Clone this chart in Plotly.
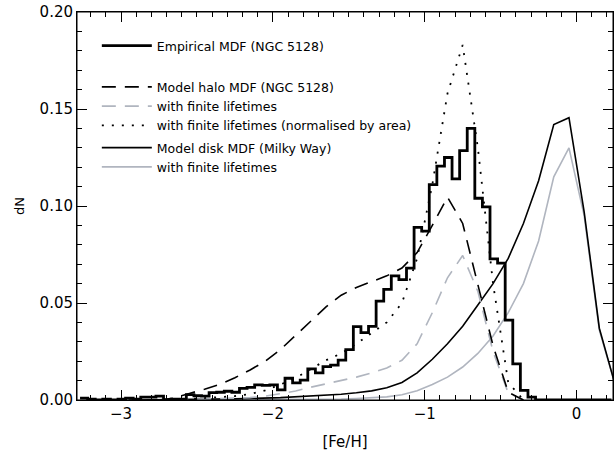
import plotly.graph_objects as go

# ---------------- data ----------------
# Empirical MDF (NGC 5128) histogram: bin edges and heights
hist_edges = [-3.27, -3.22, -3.17, -3.12, -3.07, -3.02, -2.97, -2.92, -2.87, -2.82,
              -2.77, -2.72, -2.67, -2.62, -2.57, -2.52, -2.47, -2.42, -2.37, -2.32,
              -2.27, -2.22, -2.17, -2.12, -2.07, -2.02, -1.97, -1.92, -1.87, -1.82,
              -1.77, -1.72, -1.67, -1.62, -1.57, -1.52, -1.47, -1.42, -1.37, -1.32,
              -1.27, -1.22, -1.17, -1.12, -1.07, -1.02, -0.97, -0.92, -0.87, -0.82,
              -0.77, -0.72, -0.67, -0.62, -0.57, -0.52, -0.47, -0.42, -0.37, -0.32,
              -0.27, -0.22, -0.17, -0.12, -0.07, -0.02, 0.03, 0.08, 0.13, 0.18, 0.23]
hist_values = [0.001, 0.0005, 0.0, 0.0005, 0.0, 0.0005, 0.001, 0.0005, 0.0015, 0.0015,
               0.002, 0.0, 0.0005, 0.0005, 0.0028, 0.0022, 0.002, 0.0038, 0.004, 0.0045,
               0.004, 0.006, 0.0065, 0.0078, 0.0075, 0.0078, 0.0052, 0.0112, 0.0088, 0.0102,
               0.016, 0.014, 0.0172, 0.018, 0.0206, 0.026, 0.0378, 0.0347, 0.038, 0.051,
               0.057, 0.064, 0.062, 0.068, 0.089, 0.087, 0.111, 0.1206, 0.125, 0.114,
               0.1285, 0.140, 0.104, 0.0995, 0.0727, 0.0706, 0.0412, 0.0186, 0.005, 0.0015,
               0.0, 0.0, 0.0, 0.0, 0.0, 0.0, 0.0, 0.0, 0.0, 0.0]

# Model halo MDF (NGC 5128)
halo_feh = [-2.75, -2.65, -2.55, -2.45, -2.35, -2.25, -2.15, -2.05, -1.95, -1.85,
            -1.75, -1.65, -1.55, -1.45, -1.35, -1.25, -1.15, -1.05, -0.95, -0.85,
            -0.75, -0.65, -0.55, -0.45, -0.35]
halo_dn = [0.0, 0.001, 0.0034, 0.0055, 0.008, 0.0115, 0.0155, 0.020, 0.026, 0.0335,
           0.041, 0.048, 0.054, 0.058, 0.061, 0.064, 0.068, 0.076, 0.090, 0.1046,
           0.091, 0.060, 0.028, 0.004, 0.0]

# Model halo with finite lifetimes
halo_fl_feh = [-2.65, -2.55, -2.45, -2.35, -2.25, -2.15, -2.05, -1.95, -1.85, -1.75,
               -1.65, -1.55, -1.45, -1.35, -1.25, -1.15, -1.05, -0.95, -0.85, -0.75,
               -0.65, -0.55, -0.45, -0.35]
halo_fl_dn = [0.0, 0.0002, 0.0004, 0.0006, 0.0008, 0.0012, 0.002, 0.0032, 0.0046, 0.0066,
              0.0083, 0.0098, 0.0118, 0.014, 0.0165, 0.0205, 0.029, 0.045, 0.063, 0.0745,
              0.056, 0.025, 0.0036, 0.0]

# Model halo with finite lifetimes, normalised by area
halo_norm_feh = [-2.65, -2.55, -2.45, -2.35, -2.25, -2.15, -2.05, -1.95, -1.85, -1.75,
                 -1.65, -1.55, -1.45, -1.35, -1.25, -1.15, -1.05, -0.95, -0.85, -0.75,
                 -0.65, -0.55, -0.45, -0.35]
halo_norm_dn = [0.0, 0.0005, 0.001, 0.0015, 0.002, 0.003, 0.005, 0.008, 0.0113, 0.016,
                0.0205, 0.024, 0.029, 0.0345, 0.040, 0.050, 0.073, 0.111, 0.158, 0.183,
                0.130, 0.060, 0.009, 0.0]

# Model disk MDF (Milky Way)
disk_feh = [-2.95, -2.55, -2.25, -1.95, -1.75, -1.55, -1.45, -1.35, -1.25, -1.15,
            -1.05, -0.95, -0.85, -0.75, -0.65, -0.55, -0.45, -0.35, -0.25, -0.15,
            -0.05, 0.05, 0.15, 0.25]
disk_dn = [0.0, 0.0003, 0.0006, 0.0012, 0.002, 0.003, 0.0037, 0.0047, 0.0063, 0.009,
           0.014, 0.021, 0.029, 0.038, 0.049, 0.060, 0.073, 0.091, 0.113, 0.142,
           0.1455, 0.097, 0.037, 0.009]

# Model disk with finite lifetimes
disk_fl_feh = [-2.45, -1.95, -1.55, -1.45, -1.35, -1.25, -1.15, -1.05, -0.95, -0.85,
               -0.75, -0.65, -0.55, -0.45, -0.35, -0.25, -0.15, -0.05, 0.05, 0.15, 0.25]
disk_fl_dn = [0.0, 0.0002, 0.0005, 0.0008, 0.0011, 0.0016, 0.0027, 0.0048, 0.0080, 0.0118,
              0.0170, 0.0240, 0.033, 0.045, 0.060, 0.082, 0.115, 0.130, 0.095, 0.036, 0.009]

GREY = "#b0b5bf"
FONT = "DejaVu Sans"
X_RANGE = [-3.29, 0.24]
Y_RANGE = [0, 0.2]

fig = go.Figure()

fig.add_trace(go.Scatter(x=disk_fl_feh, y=disk_fl_dn, mode="lines", name="with finite lifetimes",
                         line=dict(color=GREY, width=1.6), legendgroup="c", legendrank=7))
fig.add_trace(go.Scatter(x=disk_feh, y=disk_dn, mode="lines", name="Model disk MDF (Milky Way)",
                         line=dict(color="black", width=1.6), legendgroup="c", legendrank=6))
fig.add_trace(go.Scatter(x=halo_fl_feh, y=halo_fl_dn, mode="lines", name="with finite lifetimes",
                         line=dict(color=GREY, width=1.6, dash="14px,9px"), legendgroup="b", legendrank=4))
fig.add_trace(go.Scatter(x=halo_norm_feh, y=halo_norm_dn, mode="lines",
                         name="with finite lifetimes (normalised by area)",
                         line=dict(color="black", width=1.8, dash="2px,8px"), legendgroup="b", legendrank=5))
fig.add_trace(go.Scatter(x=halo_feh, y=halo_dn, mode="lines", name="Model halo MDF (NGC 5128)",
                         line=dict(color="black", width=1.6, dash="14px,9px"), legendgroup="b", legendrank=3,
                         legendgrouptitle=dict(text="\u00a0", font=dict(size=10))))
fig.add_trace(go.Scatter(x=hist_edges, y=hist_values + [hist_values[-1]], mode="lines",
                         line_shape="hv", name="Empirical MDF (NGC 5128)",
                         line=dict(color="black", width=2.8), legendgroup="a", legendrank=1))
# empty trace so the top/right tick axes are rendered
fig.add_trace(go.Scatter(x=[None], y=[None], xaxis="x2", yaxis="y2", mode="lines",
                         showlegend=False, hoverinfo="skip"))

tick_common = dict(ticks="inside", ticklen=10, tickwidth=1, tickcolor="black",
                   showline=True, linecolor="black", linewidth=1,
                   showgrid=False, zeroline=False, automargin=False)

fig.update_layout(
    width=616, height=452,
    margin=dict(l=77, r=3, t=12, b=52),
    paper_bgcolor="white", plot_bgcolor="white",
    font=dict(family=FONT, color="black", size=14),
    legend=dict(x=0.037, y=0.951, xanchor="left", yanchor="top",
                bgcolor="rgba(0,0,0,0)", font=dict(size=12.5, family=FONT),
                traceorder="grouped", tracegroupgap=3, itemwidth=50),
    showlegend=True,
    shapes=[dict(type="rect", xref="paper", yref="paper", x0=0, x1=1, y0=0, y1=1,
                 line=dict(color="black", width=1), layer="above")],
    xaxis=dict(range=X_RANGE, tickmode="linear", tick0=0, dtick=1,
               tickfont=dict(size=15),
               minor=dict(tickmode="linear", tick0=0, dtick=0.1, ticks="inside", ticklen=5,
                          tickcolor="black", tickwidth=1, showgrid=False),
               title=dict(text="[Fe/H]", font=dict(size=15), standoff=14), **tick_common),
    yaxis=dict(range=Y_RANGE, tickmode="linear", tick0=0, dtick=0.05, tickformat=".2f",
               tickfont=dict(size=15),
               minor=dict(tickmode="linear", tick0=0, dtick=0.01, ticks="inside", ticklen=5,
                          tickcolor="black", tickwidth=1, showgrid=False),
               title=dict(text="dN", font=dict(size=13), standoff=12), **tick_common),
    # mirrored tick axes on top and right
    xaxis2=dict(range=X_RANGE, overlaying="x", side="top", showticklabels=False,
                tickmode="linear", tick0=0, dtick=1,
                minor=dict(tickmode="linear", tick0=0, dtick=0.1, ticks="inside", ticklen=5,
                           tickcolor="black", tickwidth=1, showgrid=False), **tick_common),
    yaxis2=dict(range=Y_RANGE, overlaying="y", side="right", showticklabels=False,
                tickmode="linear", tick0=0, dtick=0.05,
                minor=dict(tickmode="linear", tick0=0, dtick=0.01, ticks="inside", ticklen=5,
                           tickcolor="black", tickwidth=1, showgrid=False), **tick_common),
)

fig.write_html("out.html", post_script="document.body.style.margin='0px';",
               config={"displayModeBar": False})
